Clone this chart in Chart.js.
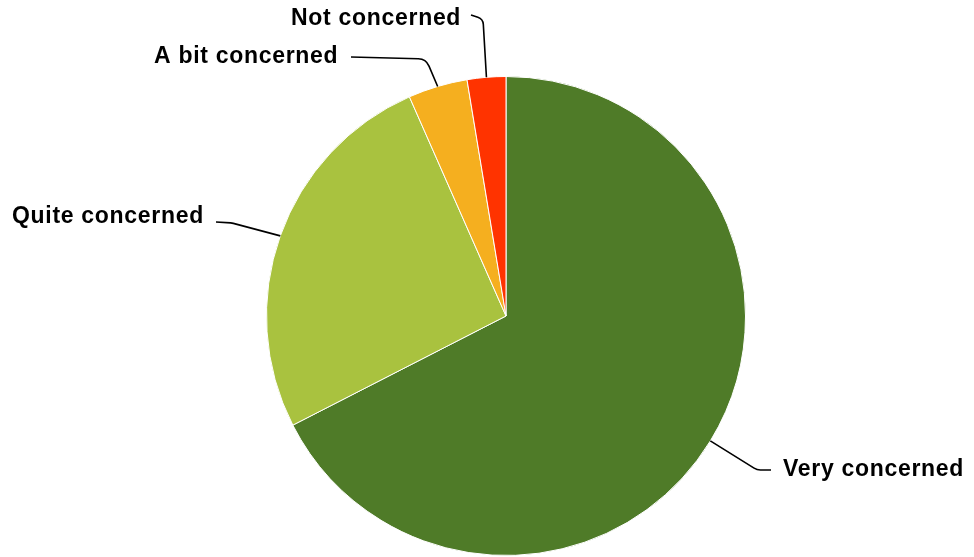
<!DOCTYPE html>
<html>
<head>
<meta charset="utf-8">
<script src="https://cdn.jsdelivr.net/npm/chart.js@4"></script>
<style>
  html, body { margin: 0; padding: 0; background: #fff; }
  #wrap { width: 974px; height: 557px; }
</style>
</head>
<body>
<div id="wrap"><canvas id="pieChart" width="974" height="557"></canvas></div>
<script>
// dati (percentuali)
const categories = ['Very concerned', 'Quite concerned', 'A bit concerned', 'Not concerned'];
const shares = [67.4, 25.9, 4.0, 2.6];
const sliceColors = ['#4f7b28', '#a9c23f', '#f5af1f', '#ff3300'];

// posizione delle etichette e gomito della linea guida
const labelLayout = [
  { x: 783, y: 476, endX: 771, endY: 470, elbowX: 757, elbowY: 470, r: 12 },
  { x: 12,  y: 223, endX: 216, endY: 222, elbowX: 232, elbowY: 223, r: 14 },
  { x: 154, y: 63,  endX: 351, endY: 57,  elbowX: 426, elbowY: 59,  r: 12 },
  { x: 291, y: 25,  endX: 471, endY: 15,  elbowX: 483, elbowY: 19,  r: 8 }
];

const leaderLabels = {
  id: 'leaderLabels',
  afterDatasetsDraw(chart) {
    const ctx = chart.ctx;
    const arcs = chart.getDatasetMeta(0).data;
    ctx.save();
    ctx.strokeStyle = '#000';
    ctx.lineWidth = 1.6;
    ctx.fillStyle = '#000';
    ctx.font = 'bold 23px "Liberation Sans", Arial, sans-serif';
    ctx.letterSpacing = '0.7px';
    ctx.textBaseline = 'alphabetic';
    ctx.textAlign = 'left';
    arcs.forEach((arc, i) => {
      const p = arc.getProps(['x', 'y', 'startAngle', 'endAngle', 'outerRadius'], true);
      const mid = (p.startAngle + p.endAngle) / 2;
      const ex = p.x + Math.cos(mid) * p.outerRadius;
      const ey = p.y + Math.sin(mid) * p.outerRadius;
      const L = labelLayout[i];
      ctx.beginPath();
      ctx.moveTo(ex, ey);
      ctx.arcTo(L.elbowX, L.elbowY, L.endX, L.endY, L.r);
      ctx.lineTo(L.endX, L.endY);
      ctx.stroke();
      ctx.fillText(categories[i], L.x, L.y);
    });
    ctx.restore();
  }
};

new Chart(document.getElementById('pieChart').getContext('2d'), {
  type: 'pie',
  data: {
    labels: categories,
    datasets: [{
      data: shares,
      backgroundColor: sliceColors,
      borderColor: '#ffffff',
      borderWidth: 1
    }]
  },
  options: {
    responsive: false,
    animation: false,
    layout: { padding: { top: 76, bottom: 1, left: 266, right: 228 } },
    plugins: { legend: { display: false }, tooltip: { enabled: false } }
  },
  plugins: [leaderLabels]
});
</script>
</body>
</html>
